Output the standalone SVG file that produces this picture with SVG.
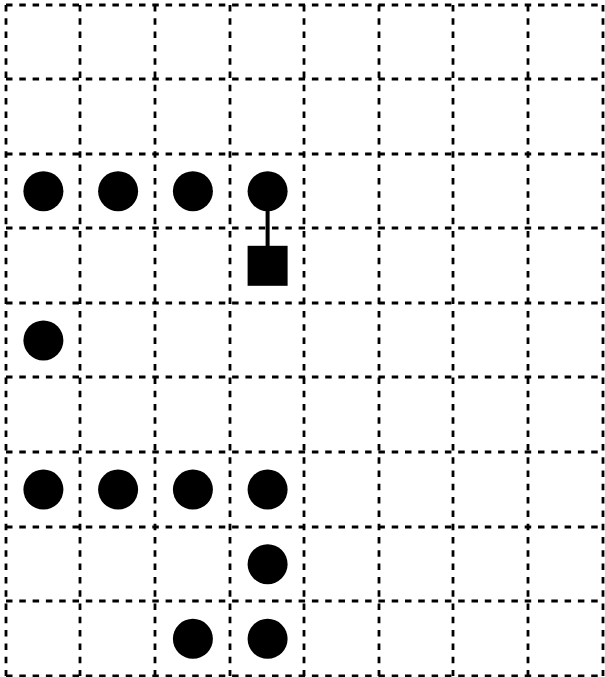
<svg xmlns="http://www.w3.org/2000/svg" width="605" height="677" viewBox="0 0 605 677">
<style>
.grid line{stroke:#000;stroke-width:2.8;stroke-dasharray:6.5 6.8;fill:none}
.dot{fill:#000}
.sq{fill:#000}
.conn{stroke:#000;stroke-width:4}
</style>
<rect width="605" height="677" fill="#fff"/>
<g id="grid" class="grid">
<line x1="6" y1="5" x2="6" y2="676"/>
<line x1="80" y1="5" x2="80" y2="676"/>
<line x1="155" y1="5" x2="155" y2="676"/>
<line x1="230" y1="5" x2="230" y2="676"/>
<line x1="304" y1="5" x2="304" y2="676"/>
<line x1="379" y1="5" x2="379" y2="676"/>
<line x1="453" y1="5" x2="453" y2="676"/>
<line x1="528" y1="5" x2="528" y2="676"/>
<line x1="603" y1="5" x2="603" y2="676"/>
<line x1="6" y1="5" x2="603" y2="5"/>
<line x1="6" y1="79" x2="603" y2="79"/>
<line x1="6" y1="154" x2="603" y2="154"/>
<line x1="6" y1="228" x2="603" y2="228"/>
<line x1="6" y1="303" x2="603" y2="303"/>
<line x1="6" y1="377" x2="603" y2="377"/>
<line x1="6" y1="452" x2="603" y2="452"/>
<line x1="6" y1="527" x2="603" y2="527"/>
<line x1="6" y1="601" x2="603" y2="601"/>
<line x1="6" y1="676" x2="603" y2="676"/>
</g>
<g id="connectors">
<line class="conn" x1="267.6" y1="191.2" x2="267.6" y2="265.8"/>
</g>
<g id="n-r2c0"><circle class="dot" cx="43.4" cy="191.2" r="20"/></g>
<g id="n-r2c1"><circle class="dot" cx="118.1" cy="191.2" r="20"/></g>
<g id="n-r2c2"><circle class="dot" cx="192.9" cy="191.2" r="20"/></g>
<g id="n-r2c3"><circle class="dot" cx="267.6" cy="191.2" r="20"/></g>
<g id="n-r3c3"><rect class="sq" x="247.6" y="245.8" width="40" height="40"/></g>
<g id="n-r4c0"><circle class="dot" cx="43.4" cy="340.4" r="20"/></g>
<g id="n-r6c0"><circle class="dot" cx="43.4" cy="489.6" r="20"/></g>
<g id="n-r6c1"><circle class="dot" cx="118.1" cy="489.6" r="20"/></g>
<g id="n-r6c2"><circle class="dot" cx="192.9" cy="489.6" r="20"/></g>
<g id="n-r6c3"><circle class="dot" cx="267.6" cy="489.6" r="20"/></g>
<g id="n-r7c3"><circle class="dot" cx="267.6" cy="564.2" r="20"/></g>
<g id="n-r8c2"><circle class="dot" cx="192.9" cy="638.8" r="20"/></g>
<g id="n-r8c3"><circle class="dot" cx="267.6" cy="638.8" r="20"/></g>
</svg>
